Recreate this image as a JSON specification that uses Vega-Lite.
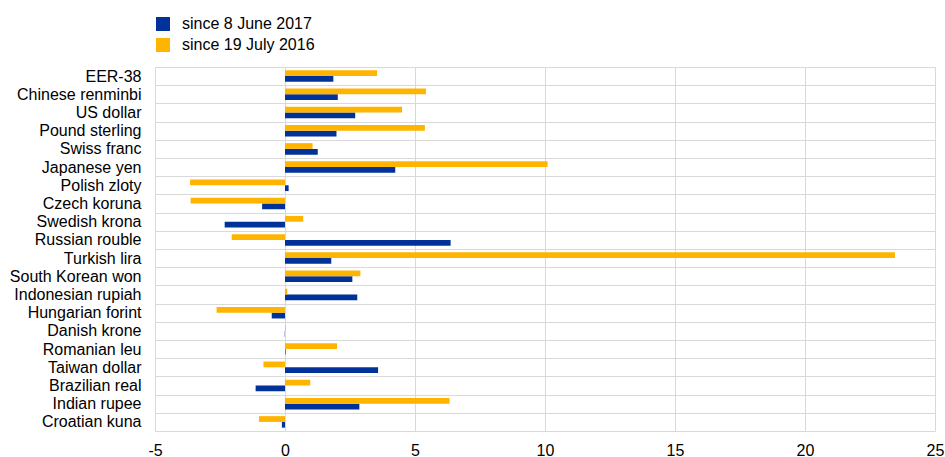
{
  "$schema": "https://vega.github.io/schema/vega-lite/v6.json",
  "width": 780,
  "height": 364,
  "autosize": {"type": "none"},
  "padding": {"left": 155, "top": 67, "right": 10, "bottom": 26},
  "background": "white",
  "config": {
    "font": "Liberation Sans",
    "view": {"stroke": null}
  },
  "data": {
    "values": [
      {"currency": "EER-38", "series": "since 8 June 2017", "value": 1.86},
      {"currency": "EER-38", "series": "since 19 July 2016", "value": 3.54},
      {"currency": "Chinese renminbi", "series": "since 8 June 2017", "value": 2.03},
      {"currency": "Chinese renminbi", "series": "since 19 July 2016", "value": 5.42},
      {"currency": "US dollar", "series": "since 8 June 2017", "value": 2.7},
      {"currency": "US dollar", "series": "since 19 July 2016", "value": 4.5},
      {"currency": "Pound sterling", "series": "since 8 June 2017", "value": 1.98},
      {"currency": "Pound sterling", "series": "since 19 July 2016", "value": 5.38},
      {"currency": "Swiss franc", "series": "since 8 June 2017", "value": 1.26},
      {"currency": "Swiss franc", "series": "since 19 July 2016", "value": 1.06},
      {"currency": "Japanese yen", "series": "since 8 June 2017", "value": 4.24},
      {"currency": "Japanese yen", "series": "since 19 July 2016", "value": 10.1},
      {"currency": "Polish zloty", "series": "since 8 June 2017", "value": 0.14},
      {"currency": "Polish zloty", "series": "since 19 July 2016", "value": -3.65},
      {"currency": "Czech koruna", "series": "since 8 June 2017", "value": -0.88},
      {"currency": "Czech koruna", "series": "since 19 July 2016", "value": -3.63},
      {"currency": "Swedish krona", "series": "since 8 June 2017", "value": -2.32},
      {"currency": "Swedish krona", "series": "since 19 July 2016", "value": 0.7},
      {"currency": "Russian rouble", "series": "since 8 June 2017", "value": 6.37},
      {"currency": "Russian rouble", "series": "since 19 July 2016", "value": -2.05},
      {"currency": "Turkish lira", "series": "since 8 June 2017", "value": 1.78},
      {"currency": "Turkish lira", "series": "since 19 July 2016", "value": 23.46},
      {"currency": "South Korean won", "series": "since 8 June 2017", "value": 2.59},
      {"currency": "South Korean won", "series": "since 19 July 2016", "value": 2.9},
      {"currency": "Indonesian rupiah", "series": "since 8 June 2017", "value": 2.78},
      {"currency": "Indonesian rupiah", "series": "since 19 July 2016", "value": 0.09},
      {"currency": "Hungarian forint", "series": "since 8 June 2017", "value": -0.51},
      {"currency": "Hungarian forint", "series": "since 19 July 2016", "value": -2.63},
      {"currency": "Danish krone", "series": "since 8 June 2017", "value": -0.01},
      {"currency": "Danish krone", "series": "since 19 July 2016", "value": 0.02},
      {"currency": "Romanian leu", "series": "since 8 June 2017", "value": 0.02},
      {"currency": "Romanian leu", "series": "since 19 July 2016", "value": 2.0},
      {"currency": "Taiwan dollar", "series": "since 8 June 2017", "value": 3.58},
      {"currency": "Taiwan dollar", "series": "since 19 July 2016", "value": -0.83},
      {"currency": "Brazilian real", "series": "since 8 June 2017", "value": -1.13},
      {"currency": "Brazilian real", "series": "since 19 July 2016", "value": 0.97},
      {"currency": "Indian rupee", "series": "since 8 June 2017", "value": 2.86},
      {"currency": "Indian rupee", "series": "since 19 July 2016", "value": 6.33},
      {"currency": "Croatian kuna", "series": "since 8 June 2017", "value": -0.12},
      {"currency": "Croatian kuna", "series": "since 19 July 2016", "value": -1.0}
    ]
  },
  "mark": {"type": "bar"},
  "encoding": {
    "y": {
      "field": "currency",
      "type": "nominal",
      "sort": null,
      "scale": {"paddingInner": 0, "paddingOuter": 0},
      "axis": {
        "title": null,
        "domain": false,
        "ticks": false,
        "tickBand": "extent",
        "grid": true,
        "gridColor": "#d9d9d9",
        "gridWidth": 1,
        "labelFontSize": 16,
        "labelColor": "#000000",
        "labelPadding": 14
      }
    },
    "yOffset": {
      "field": "series",
      "type": "nominal",
      "sort": ["since 19 July 2016", "since 8 June 2017"],
      "scale": {"paddingInner": 0, "paddingOuter": 0.58}
    },
    "x": {
      "field": "value",
      "type": "quantitative",
      "scale": {"domain": [-5, 25], "nice": false, "zero": false},
      "axis": {
        "title": null,
        "domain": false,
        "ticks": false,
        "values": [-5, 0, 5, 10, 15, 20, 25],
        "labelExpr": "'' + datum.value",
        "grid": true,
        "gridColor": "#d9d9d9",
        "gridWidth": 1,
        "labelFontSize": 16,
        "labelColor": "#000000",
        "labelPadding": 11,
        "labelFlush": false
      }
    },
    "color": {
      "field": "series",
      "type": "nominal",
      "scale": {
        "domain": ["since 8 June 2017", "since 19 July 2016"],
        "range": ["#003299", "#FFB400"]
      },
      "legend": {
        "title": null,
        "orient": "none",
        "legendX": 0,
        "legendY": -51,
        "padding": 0,
        "symbolType": "square",
        "symbolSize": 196,
        "symbolStrokeWidth": 0,
        "labelFontSize": 16,
        "labelColor": "#000000",
        "labelOffset": 11,
        "rowPadding": 5
      }
    }
  }
}
